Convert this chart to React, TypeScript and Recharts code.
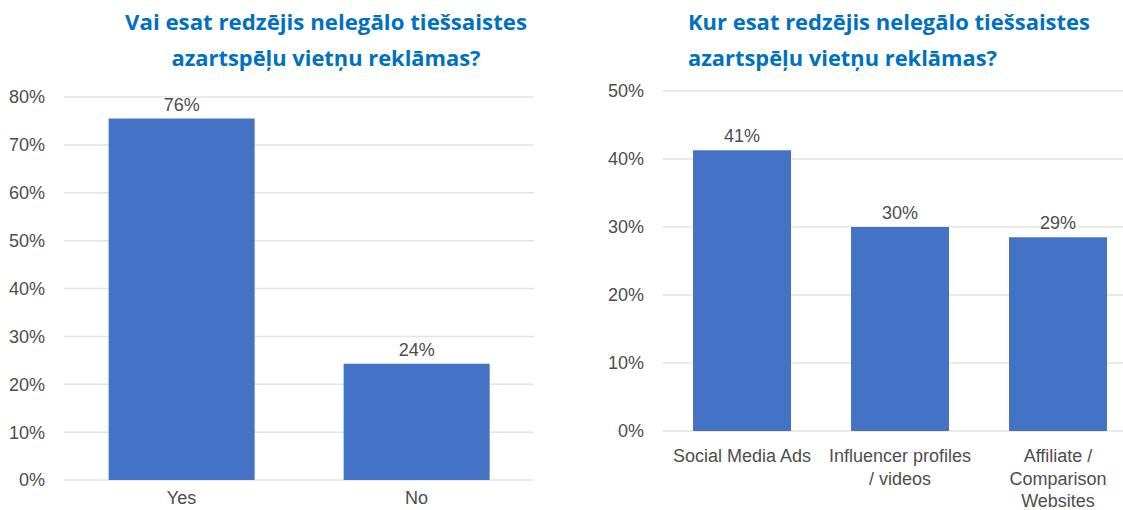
import React from 'react';
import { BarChart, Bar, XAxis, YAxis, CartesianGrid, LabelList } from 'recharts';

// --- Dati ---
const yesNoCategories = ['Yes', 'No'];
const yesNoValues = [75.5, 24.3];
const yesNoTicks = [0, 10, 20, 30, 40, 50, 60, 70, 80];

const whereCategories = ['Social Media Ads', 'Influencer profiles\n/ videos', 'Affiliate /\nComparison\nWebsites'];
const whereValues = [41.3, 30.0, 28.5];
const whereTicks = [0, 10, 20, 30, 40, 50];

const leftTitle = ['Vai esat redzējis nelegālo tiešsaistes', 'azartspēļu vietņu reklāmas?'];
const rightTitle = ['Kur esat redzējis nelegālo tiešsaistes', 'azartspēļu vietņu reklāmas?'];

const BAR_COLOR = '#4472C4';
const TEXT_COLOR = '#4d4d4d';
const GRID_COLOR = '#e4e4e4';
const TITLE_COLOR = '#0070C0';
const FONT = 'Liberation Sans, Arial, sans-serif';
const TITLE_FONT = 'Open Sans, sans-serif';

const leftData = yesNoCategories.map((name, i) => ({ name, value: yesNoValues[i] }));
const rightData = whereCategories.map((name, i) => ({ name, value: whereValues[i] }));

// tick ar vairākām rindām
const MultiLineTick = (props: any) => {
  const { x, y, payload, baseline = 22 } = props;
  const lines = String(payload.value).split('\n');
  return (
    <text x={x} y={y + baseline} textAnchor="middle" fill={TEXT_COLOR} fontSize={18} fontFamily={FONT}>
      {lines.map((line, i) => (
        <tspan key={i} x={x} dy={i === 0 ? 0 : 22.5}>
          {line}
        </tspan>
      ))}
    </text>
  );
};

const pct = (v: any) => `${Math.round(Number(v))}%`;

const TitleLine = ({ x, y, text, width, anchor }: any) => (
  <text
    x={x}
    y={y}
    textAnchor={anchor}
    fill={TITLE_COLOR}
    fontSize={21}
    fontWeight={700}
    fontFamily={TITLE_FONT}
    textLength={width}
    lengthAdjust="spacingAndGlyphs"
  >
    {text}
  </text>
);

export default function App() {
  return (
    <div style={{ position: 'absolute', left: 0, top: 0, width: 1123, height: 510, overflow: 'hidden', background: '#fff' }}>
      {/* Virsraksti */}
      <svg width={1123} height={80} style={{ position: 'absolute', left: 0, top: 0 }}>
        <TitleLine x={326} y={30} text={leftTitle[0]} width={402} anchor="middle" />
        <TitleLine x={326} y={66} text={leftTitle[1]} width={309} anchor="middle" />
        <TitleLine x={688} y={30} text={rightTitle[0]} width={402} anchor="start" />
        <TitleLine x={688} y={66} text={rightTitle[1]} width={309} anchor="start" />
      </svg>

      {/* Kreisā diagramma */}
      <div style={{ position: 'absolute', left: 0, top: 0 }}>
        <BarChart width={560} height={510} data={leftData} margin={{ top: 97, right: 26, left: 0, bottom: 0 }} barCategoryGap="19%">
          <CartesianGrid vertical={false} stroke={GRID_COLOR} strokeWidth={1.5} />
          <XAxis dataKey="name" height={30} axisLine={false} tickLine={false} tick={<MultiLineTick baseline={16} />} interval={0} />
          <YAxis
            width={64}
            domain={[0, 80]}
            ticks={yesNoTicks}
            tickFormatter={(v) => `${v}%`}
            axisLine={false}
            tickLine={false}
            tickMargin={13}
            tick={{ fill: TEXT_COLOR, fontSize: 18, fontFamily: FONT }}
          />
          <Bar dataKey="value" fill={BAR_COLOR} isAnimationActive={false}>
            <LabelList dataKey="value" position="top" offset={8} formatter={pct} fill={TEXT_COLOR} fontSize={18} fontFamily={FONT} />
          </Bar>
        </BarChart>
      </div>

      {/* Labā diagramma */}
      <div style={{ position: 'absolute', left: 560, top: 0 }}>
        <BarChart width={577} height={510} data={rightData} margin={{ top: 91, right: 0, left: 0, bottom: 0 }} barCategoryGap="19%">
          <CartesianGrid vertical={false} stroke={GRID_COLOR} strokeWidth={1.5} />
          <XAxis dataKey="name" height={79} axisLine={false} tickLine={false} tick={<MultiLineTick baseline={23} />} interval={0} />
          <YAxis
            width={103}
            domain={[0, 50]}
            ticks={whereTicks}
            tickFormatter={(v) => `${v}%`}
            axisLine={false}
            tickLine={false}
            tickMargin={13}
            tick={{ fill: TEXT_COLOR, fontSize: 18, fontFamily: FONT }}
          />
          <Bar dataKey="value" fill={BAR_COLOR} isAnimationActive={false}>
            <LabelList dataKey="value" position="top" offset={8} formatter={pct} fill={TEXT_COLOR} fontSize={18} fontFamily={FONT} />
          </Bar>
        </BarChart>
      </div>
    </div>
  );
}
